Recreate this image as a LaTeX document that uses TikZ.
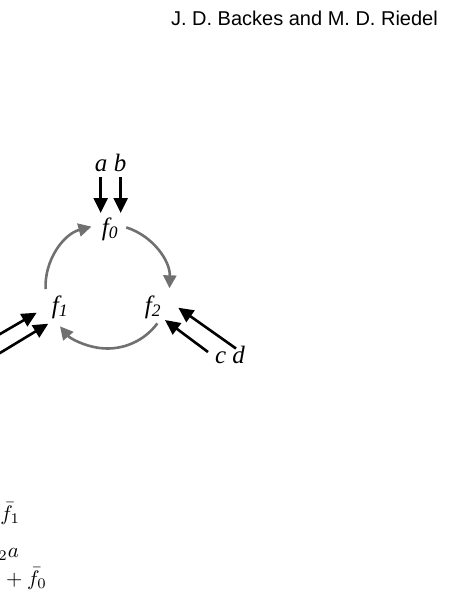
\documentclass[tikz,border=0pt]{standalone}
\usepackage{fontspec}
\setmainfont{Liberation Serif}
\newfontfamily\headfont{Liberation Sans}
\usepackage{xcolor}
\usetikzlibrary{calc, positioning, arrows.meta}
\definecolor{loopgray}{RGB}{112,112,112}

\begin{document}
\begin{tikzpicture}[x=1pt, y=-1pt,
  lbl/.style={font=\fontsize{25}{30}\selectfont\itshape, inner sep=2pt, anchor=base},
  eqn/.style={scale=2.1, inner sep=0pt, anchor=base west},
  inp/.style={line width=2.6pt, -{Triangle[length=15pt, width=14pt]}},
  cyc/.style={line width=2.6pt, draw=loopgray, -{Triangle[length=13pt, width=13pt]}}]
\useasboundingbox (0,0) rectangle (448,599);
\clip (0,0) rectangle (448,599);
\node[font=\headfont\fontsize{20}{24}\selectfont, anchor=base east, inner sep=0pt] (head) at (438,26) {J. D. Backes and M. D. Riedel};
\node[lbl] (f0) at (110,235) {f\textsubscript{0}};
\node[lbl, below left = 78pt and 50pt of f0.base, anchor=base] (f1) {f\textsubscript{1}};
\node[lbl, below right = 78pt and 43pt of f0.base, anchor=base] (f2) {f\textsubscript{2}};
\node[lbl, above left = 64pt and 9pt of f0.base, anchor=base] (a) {a};
\node[lbl, above right = 64pt and 10pt of f0.base, anchor=base] (b) {b};
\node[lbl, below right = 50pt and 77pt of f2.base, anchor=base] (cd) {c d};
\coordinate (hub) at (107.5,286.5);
% inputs
\draw[inp] ($(a.base)+(-0.3,6)$) -- ($(f0.base)+(-9.3,-22)$);
\draw[inp] ($(b.base)+(0.7,6)$) -- ($(f0.base)+(10.7,-22)$);
\draw[inp] ($(f1.base)+(-65.3,24.1)$) -- ($(f1.base)+(-23.3,-0.3)$);
\draw[inp] ($(f1.base)+(-61.7,41)$) -- ($(f1.base)+(-11.7,10.7)$);
\draw[inp] ($(f2.base)+(83,35.5)$) -- ($(f2.base)+(25.3,-5.3)$);
\draw[inp] ($(f2.base)+(55,39)$) -- ($(f2.base)+(12,7)$);
% cycle
\draw[cyc] ($(hub)+(-182.5:62)$) arc[start angle=-182.5, end angle=-105, radius=62];
\draw[cyc] ($(hub)+(-72.4:62)$) arc[start angle=-72.4, end angle=1.7, radius=62];
\draw[cyc] ($(hub)+(36.5:62)$) arc[start angle=36.5, end angle=140, radius=62];
% equations
\node[eqn] (eq1) at (0,520) {$\bar{f}_1$};
\node[eqn] (eq2) at (-2,557) {${}_2a$};
\node[eqn] (eq3) at (1,585) {${}+\bar{f}_0$};
\end{tikzpicture}
\end{document}
